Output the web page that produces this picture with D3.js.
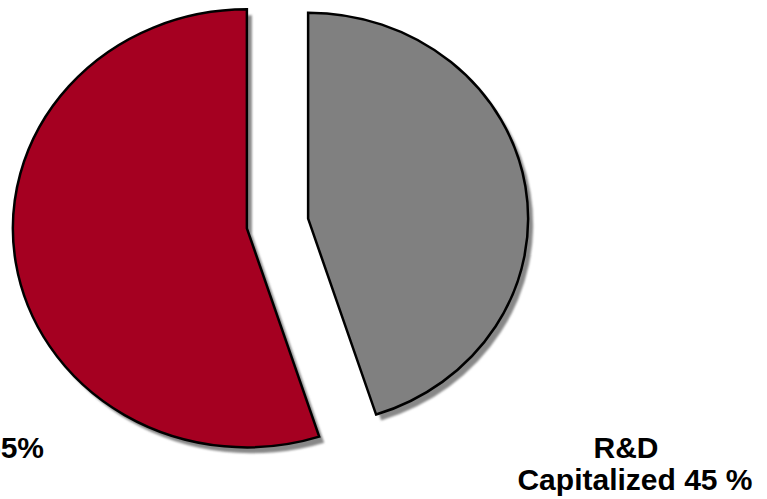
<!DOCTYPE html>
<html>
<head>
<meta charset="utf-8">
<script src="https://cdn.jsdelivr.net/npm/d3@7"></script>
<style>
  html, body { margin: 0; padding: 0; background: #fff; overflow: hidden; }
  svg { display: block; }
  text { font-family: "Liberation Sans", Arial, sans-serif; font-weight: bold; fill: #000; }
</style>
</head>
<body>
<svg id="chart" width="767" height="499"></svg>
<script>
// ---- data ----
const categories = ["R&D Expensed", "R&D Capitalized"];
const values = [55, 45];
const labelLines = [["R&D Expensed 55%"], ["R&D", "Capitalized 45 %"]];

// ---- style ----
const colors = ["#A50021", "#808080"];
const radiiX = [234, 220];
const radiiY = [219, 206];
const labelAnchor = [{x: 44, y: 458, anchor: "end"}, {x: 630, y: 458, anchor: "middle"}];
const center = {x: 277.5, y: 223.5};
const explode = 31;
const shadow = {dx: 5, dy: 6, color: "#888888"};

const svg = d3.select("#chart");

const pie = d3.pie()
  .sort(null)
  .value(d => d)
  .startAngle(2 * Math.PI * 0.45)
  .endAngle(2 * Math.PI * 1.45);

const arcs = pie(values);
const R = 100;
const arc = d3.arc().innerRadius(0).outerRadius(R);

const defs = svg.append("defs");
defs.append("filter").attr("id", "blur")
  .attr("x", "-10%").attr("y", "-10%").attr("width", "120%").attr("height", "120%")
  .append("feGaussianBlur").attr("stdDeviation", 0.5);

const slices = svg.selectAll("g.slice")
  .data(arcs)
  .join("g")
  .attr("class", "slice")
  .attr("transform", (d) => {
    const mid = (d.startAngle + d.endAngle) / 2;
    const cx = center.x + explode * Math.sin(mid);
    const cy = center.y - explode * Math.cos(mid);
    return `translate(${cx},${cy})`;
  });

// shadow
slices.append("path")
  .attr("d", arc)
  .attr("transform", (d, i) => `translate(${shadow.dx},${shadow.dy}) scale(${radiiX[i] / R},${radiiY[i] / R})`)
  .attr("fill", shadow.color)
  .attr("filter", "url(#blur)");

// slice
slices.append("path")
  .attr("d", arc)
  .attr("transform", (d, i) => `scale(${radiiX[i] / R},${radiiY[i] / R})`)
  .attr("fill", (d, i) => colors[i])
  .attr("stroke", "#000")
  .attr("stroke-width", 2.5)
  .attr("stroke-linejoin", "miter")
  .attr("vector-effect", "non-scaling-stroke");

// labels
categories.forEach((c, i) => {
  const a = labelAnchor[i];
  const t = svg.append("text")
    .attr("x", a.x)
    .attr("y", a.y)
    .attr("text-anchor", a.anchor)
    .style("font-size", "30px");
  labelLines[i].forEach((line, j) => {
    t.append("tspan")
      .attr("x", a.x + (labelLines[i].length > 1 && j === 1 ? 5 : 0) - (labelLines[i].length > 1 && j === 0 ? 4 : 0))
      .attr("dy", j === 0 ? 0 : 32)
      .text(line);
  });
});
</script>
</body>
</html>
